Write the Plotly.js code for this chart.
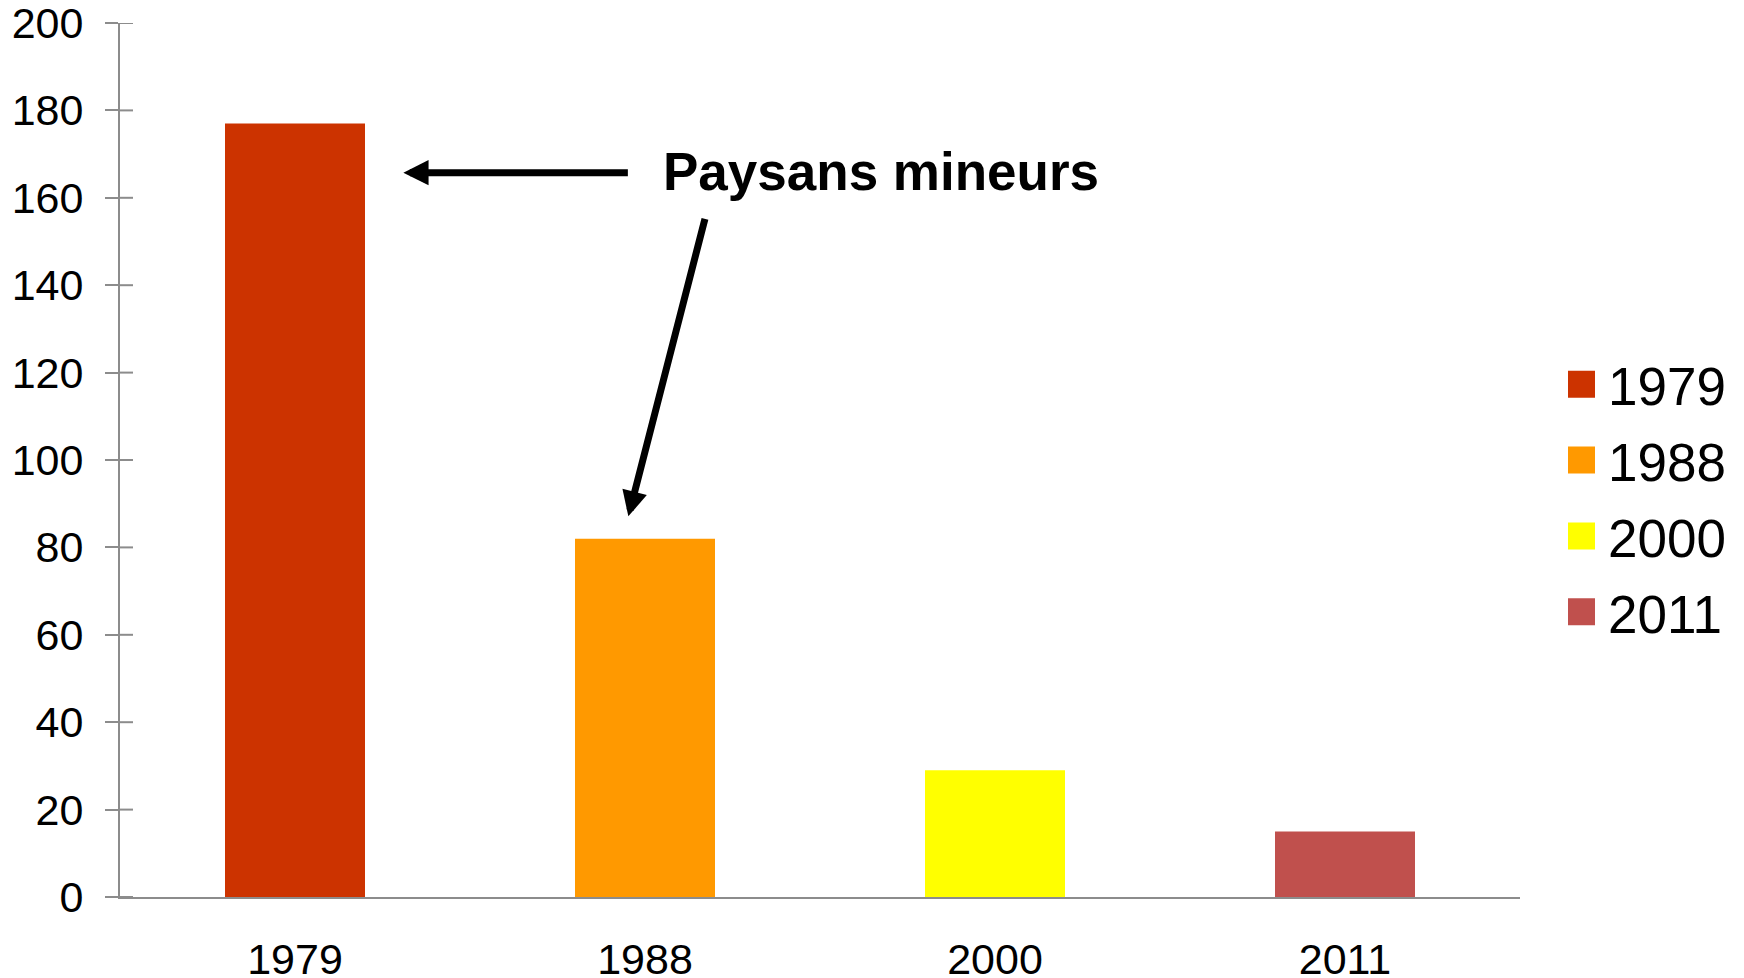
<!DOCTYPE html>
<html>
<head>
<meta charset="utf-8">
<script src="https://cdn.plot.ly/plotly-3.0.1.min.js"></script>
<style>
  html, body { margin: 0; padding: 0; background: #ffffff; }
  #chart { width: 1744px; height: 978px; }
</style>
</head>
<body>
<div id="chart"></div>
<script>
// ---- data ----
const categories = ['1979', '1988', '2000', '2011'];
const values = [177, 82, 29, 15];
const barColors = ['#CC3300', '#FF9900', '#FFFF00', '#C0504D'];
const yTickValues = [0, 20, 40, 60, 80, 100, 120, 140, 160, 180, 200];
const annotationText = 'Paysans mineurs';

const FONT = 'Liberation Sans, Arial, Helvetica, sans-serif';
const AXIS_GRAY = '#8c8c8c';

const traces = categories.map((c, i) => ({
  type: 'bar',
  name: c,
  x: [c],
  y: [values[i]],
  marker: { color: barColors[i], line: { width: 0 } },
  legendgroup: 'g' + i,
  hoverinfo: 'x+y'
}));

// inner half of the crossing y-axis tick marks (outer half is drawn by the axis itself)
const innerTicks = yTickValues.map(v => ({
  type: 'line',
  xref: 'paper', yref: 'y',
  x0: 0, x1: 13 / 1400,
  y0: v, y1: v,
  line: { color: AXIS_GRAY, width: 2 },
  layer: 'above'
}));

const layout = {
  width: 1744,
  height: 978,
  margin: { l: 120, r: 224, t: 23, b: 81, pad: 0 },
  paper_bgcolor: '#ffffff',
  plot_bgcolor: '#ffffff',
  font: { family: FONT, color: '#000000' },
  barmode: 'overlay',
  bargap: 0.6,
  showlegend: true,
  legend: {
    xref: 'container',
    x: 1555 / 1744,
    xanchor: 'left',
    y: 0.4563,
    yanchor: 'middle',
    font: { family: FONT, size: 53, color: '#000000' },
    itemwidth: 43,
    tracegroupgap: 4,
    bgcolor: 'rgba(0,0,0,0)',
    borderwidth: 0
  },
  xaxis: {
    type: 'category',
    categoryorder: 'array',
    categoryarray: categories,
    showline: true,
    linecolor: AXIS_GRAY,
    linewidth: 2,
    ticks: '',
    showgrid: false,
    zeroline: false,
    tickfont: { family: FONT, size: 43, color: '#000000' },
    ticklabelstandoff: 23,
    ticklabeloverflow: 'allow',
    fixedrange: true
  },
  yaxis: {
    range: [0, 200],
    tickmode: 'array',
    tickvals: yTickValues,
    ticktext: yTickValues.map(String),
    showline: true,
    linecolor: AXIS_GRAY,
    linewidth: 2,
    ticks: 'outside',
    ticklen: 13,
    tickwidth: 2,
    tickcolor: AXIS_GRAY,
    showgrid: false,
    zeroline: false,
    tickfont: { family: FONT, size: 43, color: '#000000' },
    ticklabelstandoff: 13,
    ticklabeloverflow: 'allow',
    fixedrange: true
  },
  shapes: innerTicks,
  annotations: [
    {
      xref: 'paper', yref: 'paper',
      x: 0.5434, y: 0.8303,
      xanchor: 'center', yanchor: 'middle',
      text: '<b>' + annotationText + '</b>',
      showarrow: false,
      font: { family: FONT, size: 53, color: '#000000' }
    },
    {
      xref: 'paper', yref: 'paper',
      x: 0.2024, y: 0.8288,
      text: '',
      showarrow: true,
      arrowhead: 2,
      arrowsize: 0.72,
      arrowwidth: 7,
      arrowcolor: '#000000',
      ax: 226, ay: 0,
      standoff: 0
    },
    {
      xref: 'paper', yref: 'paper',
      x: 0.3631, y: 0.4355,
      text: '',
      showarrow: true,
      arrowhead: 2,
      arrowsize: 0.72,
      arrowwidth: 7,
      arrowcolor: '#000000',
      ax: 77, ay: -299,
      standoff: 0
    }
  ]
};

Plotly.newPlot('chart', traces, layout, { displayModeBar: false, staticPlot: true }).then(function (gd) {
  // enlarge the legend colour swatches to match the reference (27 px squares)
  gd.querySelectorAll('.legend .legendpoints path').forEach(function (p) {
    const t = p.getAttribute('transform') || '';
    p.setAttribute('transform', t + ' scale(2.25)');
  });
});
</script>
</body>
</html>
